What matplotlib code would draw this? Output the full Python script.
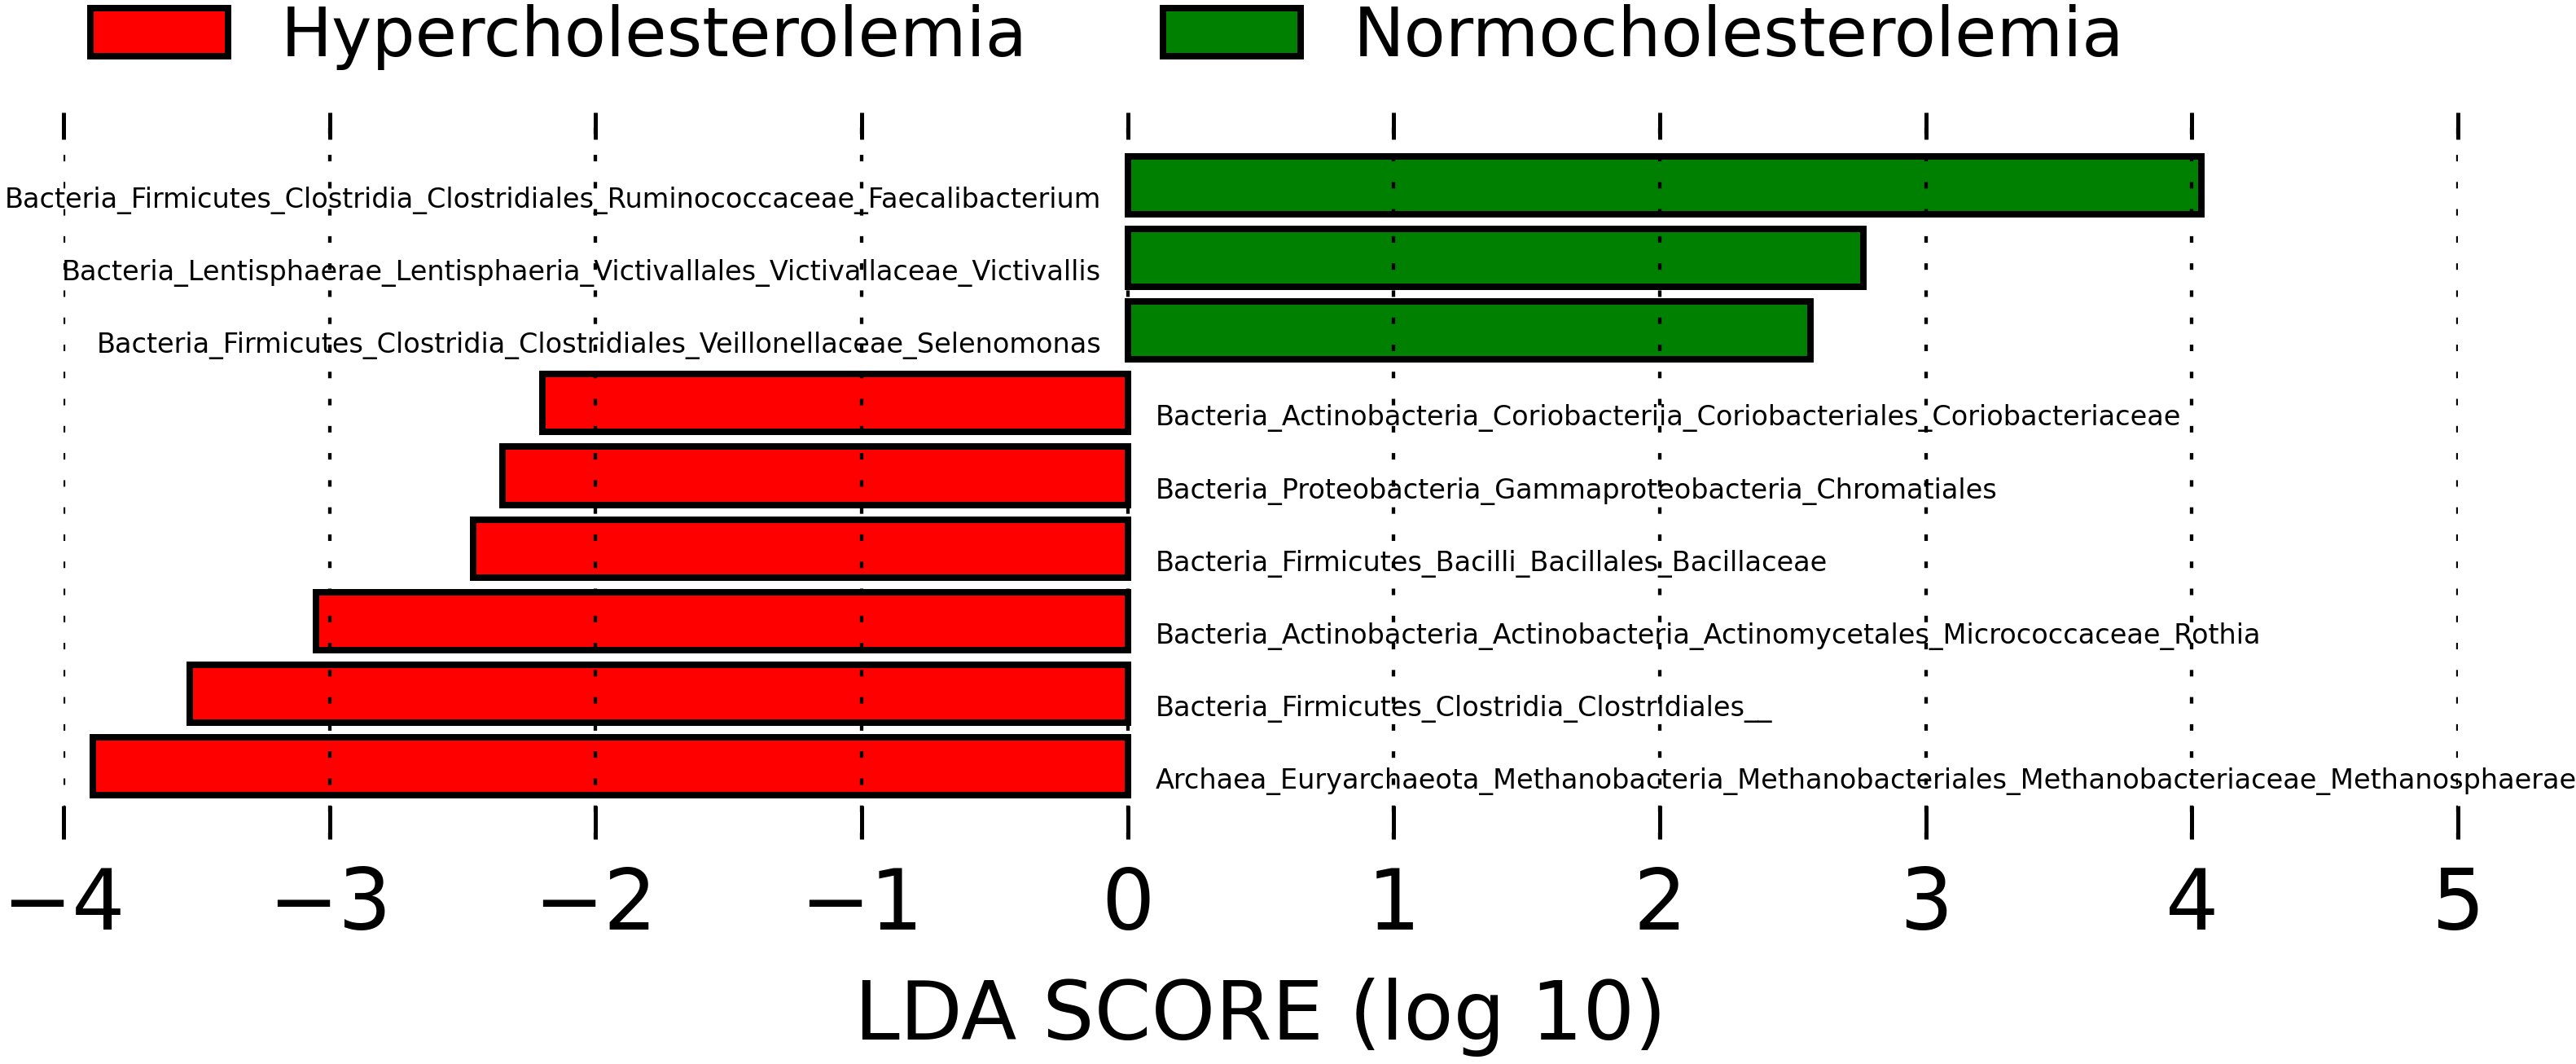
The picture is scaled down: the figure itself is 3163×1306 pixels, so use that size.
import matplotlib
matplotlib.use("Agg")
import matplotlib.pyplot as plt

plt.rcParams['font.family'] = ['DejaVu Sans']
plt.rcParams['lines.scale_dashes'] = False

# ---- data (top to bottom) ----
taxa = [
    "Bacteria_Firmicutes_Clostridia_Clostridiales_Ruminococcaceae_Faecalibacterium",
    "Bacteria_Lentisphaerae_Lentisphaeria_Victivallales_Victivallaceae_Victivallis",
    "Bacteria_Firmicutes_Clostridia_Clostridiales_Veillonellaceae_Selenomonas",
    "Bacteria_Actinobacteria_Coriobacteriia_Coriobacteriales_Coriobacteriaceae",
    "Bacteria_Proteobacteria_Gammaproteobacteria_Chromatiales",
    "Bacteria_Firmicutes_Bacilli_Bacillales_Bacillaceae",
    "Bacteria_Actinobacteria_Actinobacteria_Actinomycetales_Micrococcaceae_Rothia",
    "Bacteria_Firmicutes_Clostridia_Clostridiales__",
    "Archaea_Euryarchaeota_Methanobacteria_Methanobacteriales_Methanobacteriaceae_Methanosphaerae",
]
lda_scores = [4.035, 2.765, 2.565, -2.20, -2.35, -2.46, -3.05, -3.525, -3.89]
groups = ["Normocholesterolemia", "Normocholesterolemia", "Normocholesterolemia",
          "Hypercholesterolemia", "Hypercholesterolemia", "Hypercholesterolemia",
          "Hypercholesterolemia", "Hypercholesterolemia", "Hypercholesterolemia"]
group_order = ["Hypercholesterolemia", "Normocholesterolemia"]
group_colors = {"Hypercholesterolemia": "#ff0000", "Normocholesterolemia": "#008000"}
xticks = [-4, -3, -2, -1, 0, 1, 2, 3, 4, 5]

W, H = 3163, 1306
fig = plt.figure(figsize=(W / 100, H / 100), dpi=100)
ax = fig.add_axes([78 / W, 1 - 1030 / H, (3018 - 78) / W, (1030 - 138) / H])

n = len(taxa)
positions = list(range(n - 1, -1, -1))
lw_bar = 8 * 0.72

for g in group_order:
    idx = [i for i in range(n) if groups[i] == g]
    ax.barh([positions[i] for i in idx], [lda_scores[i] for i in idx], height=0.8,
            color=group_colors[g], edgecolor='black', linewidth=lw_bar, label=g,
            align='center', zorder=1)

for i in range(n):
    v = lda_scores[i]
    if v > 0:
        ax.annotate(taxa[i], xy=(0, positions[i]), xytext=(-23.5, -19.8),
                    textcoords='offset points', ha='right', va='baseline',
                    fontsize=24.1, zorder=2)
    else:
        ax.annotate(taxa[i], xy=(0, positions[i]), xytext=(24.3, -19.8),
                    textcoords='offset points', ha='left', va='baseline',
                    fontsize=24.1, zorder=2)

ax.set_xlim(xticks[0], xticks[-1])
ax.set_ylim(-1, n)
ax.set_yticks([])
ax.set_xticks(xticks)
for s in ax.spines.values():
    s.set_visible(False)

ax.set_axisbelow(False)
ax.xaxis.grid(True, color='black', linewidth=4.3 * 0.72,
              linestyle=(0, (5.76, 18.2)), zorder=3)

ax.tick_params(axis='x', which='major', direction='in', top=True, bottom=True,
               length=29.5, width=3.6, labelsize=74, pad=23, color='black')
for t in ax.xaxis.get_major_ticks():
    t.tick2line.set_markersize(23.8)

ax.set_xlabel("LDA SCORE (log 10)", fontsize=72, labelpad=27)

handles, labels = ax.get_legend_handles_labels()
fig.legend(handles, labels, loc='upper left', bbox_to_anchor=(111 / W, 1 - 5 / H),
           ncol=2, frameon=False, fontsize=60.2, borderpad=0, borderaxespad=0,
           handlelength=2.02, handleheight=0.71, handletextpad=0.77,
           columnspacing=2.0)

fig.savefig("out.png", dpi=100)
